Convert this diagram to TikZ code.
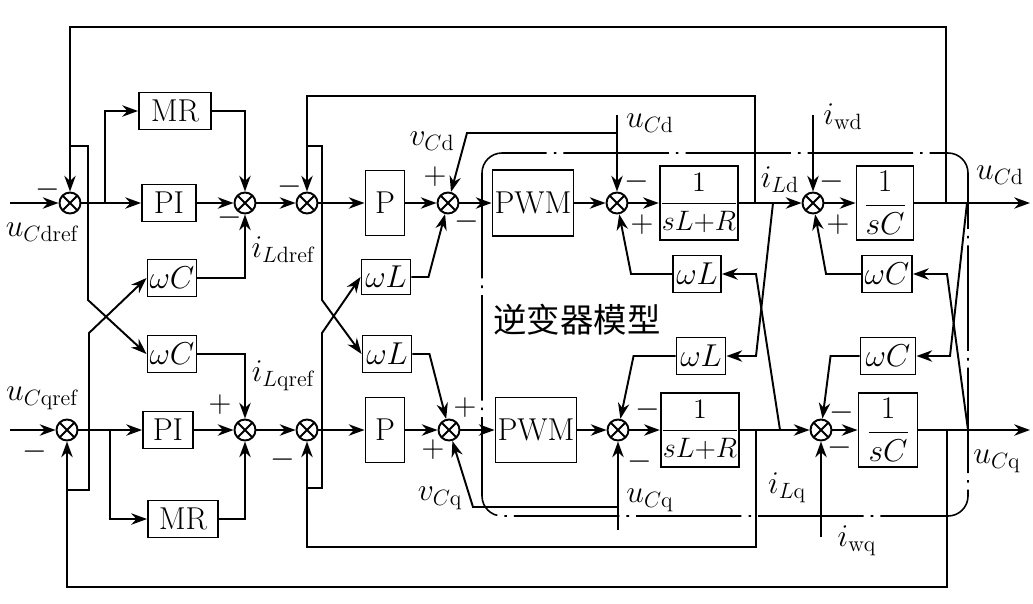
\documentclass[tikz,border=0pt]{standalone}
\usepackage{fix-cm}
\usepackage{fontspec}
\newfontfamily\cjk{Noto Sans CJK SC}
\usetikzlibrary{arrows.meta}

\begin{document}
\begin{tikzpicture}[x=0.02cm, y=-0.02cm, line width=1.1pt,
    font=\fontsize{18}{21}\selectfont,
    sumnode/.style={circle, draw, minimum size=0.42cm, inner sep=0pt,
      path picture={\draw (path picture bounding box.north west) -- (path picture bounding box.south east)
        (path picture bounding box.south west) -- (path picture bounding box.north east);}},
    blk/.style={draw, inner sep=0pt, minimum height=0.74cm},
    arr/.style={-{Stealth[length=9pt, width=6.5pt]}},
    frac/.style={blk, minimum height=1.48cm}]
  \useasboundingbox (0,0) rectangle (1033,603);

  \node[sumnode] (sd1) at (70,203) {};
  \node[sumnode] (sd2) at (245,203) {};
  \node[sumnode] (sd3) at (307,203) {};
  \node[sumnode] (sd4) at (448,203) {};
  \node[sumnode] (sd5) at (617,203) {};
  \node[sumnode] (sd6) at (813,203) {};
  \node[sumnode] (sq1) at (67,430) {};
  \node[sumnode] (sq2) at (245,430) {};
  \node[sumnode] (sq3) at (307,430) {};
  \node[sumnode] (sq4) at (449,430) {};
  \node[sumnode] (sq5) at (618,430) {};
  \node[sumnode] (sq6) at (821,430) {};

  \node[blk, minimum width=1.44cm] (mrd) at (175,111) {MR};
  \node[blk, minimum width=1.08cm] (pid) at (169,203) {PI};
  \node[blk, minimum width=0.98cm] (wcd) at (172,278) {$\omega C$};
  \node[blk, minimum width=0.98cm] (wcq) at (172,354) {$\omega C$};
  \node[blk, minimum width=1.0cm] (piq) at (168,430) {PI};
  \node[blk, minimum width=1.4cm] (mrq) at (183,519) {MR};
  \node[blk, minimum width=0.78cm, minimum height=1.3cm] (pd) at (385,203) {P};
  \node[blk, minimum width=0.78cm, minimum height=1.3cm] (pq) at (385,430) {P};
  \node[blk, minimum width=0.98cm, minimum height=0.7cm] (wld) at (386,277) {$\omega L$};
  \node[blk, minimum width=0.98cm] (wlq) at (387,354) {$\omega L$};
  \node[blk, minimum width=1.62cm, minimum height=1.32cm] (pwmd) at (533,203) {PWM};
  \node[blk, minimum width=1.62cm, minimum height=1.3cm] (pwmq) at (536,430) {PWM};
  \node[frac, minimum width=1.52cm, font=\fontsize{16}{19}\selectfont] (gld) at (699,203) {$\displaystyle\frac{1}{sL{+}R}$};
  \node[frac, minimum width=1.52cm, font=\fontsize{16}{19}\selectfont] (glq) at (700,430) {$\displaystyle\frac{1}{sL{+}R}$};
  \node[blk, minimum width=0.96cm] (wlrd) at (697,274) {$\omega L$};
  \node[blk, minimum width=0.98cm] (wlrq) at (701,356) {$\omega L$};
  \node[frac, minimum width=1.14cm] (gcd) at (885,203) {$\displaystyle\frac{1}{sC}$};
  \node[frac, minimum width=1.18cm] (gcq) at (888,430) {$\displaystyle\frac{1}{sC}$};
  \node[blk, minimum width=1.0cm] (wcrd) at (887,274) {$\omega C$};
  \node[blk, minimum width=1.1cm] (wcrq) at (888,356) {$\omega C$};

  \node (model) at (577,320) {\cjk\fontsize{19}{22}\selectfont 逆变器模型};

  \node (ucdref) at (42,232) {$u_{C\mathrm{dref}}$};
  \node (ucqref) at (42,398) {$u_{C\mathrm{qref}}$};
  \node (ildref) at (283,250) {$i_{L\mathrm{dref}}$};
  \node (ilqref) at (283,376) {$i_{L\mathrm{qref}}$};
  \node (vcdl) at (432,141) {$v_{C\mathrm{d}}$};
  \node (vcql) at (440,498) {$v_{C\mathrm{q}}$};
  \node (ucdl) at (650,123) {$u_{C\mathrm{d}}$};
  \node (ucql) at (650,500) {$u_{C\mathrm{q}}$};
  \node (ildl) at (780,180) {$i_{L\mathrm{d}}$};
  \node (ilql) at (787,488) {$i_{L\mathrm{q}}$};
  \node (iwdl) at (843,117) {$i_{\mathrm{wd}}$};
  \node (iwql) at (857,541) {$i_{\mathrm{wq}}$};
  \node (udl) at (1000,175) {$u_{C\mathrm{d}}$};
  \node (uql) at (997,461) {$u_{C\mathrm{q}}$};

  \node (s1) at (48,190) {$-$};
  \node (s2) at (35,452) {$-$};
  \node (s3) at (230,218) {$-$};
  \node (s4) at (220,405) {$+$};
  \node (s5) at (290,187) {$-$};
  \node (s6) at (283,460) {$-$};
  \node (s7) at (435,177) {$+$};
  \node (s8) at (467,222) {$-$};
  \node (s9) at (465,408) {$+$};
  \node (s10) at (433,450) {$+$};
  \node (s11) at (637,182) {$-$};
  \node (s12) at (642,225) {$+$};
  \node (s13) at (648,410) {$-$};
  \node (s14) at (640,462) {$-$};
  \node (s15) at (832,182) {$-$};
  \node (s16) at (838,225) {$+$};
  \node (s17) at (842,413) {$-$};
  \node (s18) at (840,448) {$-$};

  \coordinate (ind) at (10,203);
  \coordinate (inq) at (10,430);
  \coordinate (outd) at (1030,203);
  \coordinate (outq) at (1030,430);
  \coordinate (brd) at (105,203);
  \coordinate (brq) at (110,430);
  \coordinate (ucdtop) at (617,115);
  \coordinate (vcd) at (617,133);
  \coordinate (ucqbot) at (618,530);
  \coordinate (vcq) at (618,507);
  \coordinate (iwd) at (813,115);
  \coordinate (iwq) at (821,537);
  \coordinate (ild) at (755,203);
  \coordinate (ilq) at (756,430);
  \coordinate (ildx) at (773,203);
  \coordinate (ilqx) at (780,430);
  \coordinate (ud) at (946,203);
  \coordinate (uq) at (947,430);
  \coordinate (udx) at (967,203);
  \coordinate (uqx) at (968,430);
  \coordinate (fd1) at (70,146);
  \coordinate (fq1) at (67,490);
  \coordinate (fd3) at (307,146);
  \coordinate (fq3) at (307,488);

  \draw[line width=0.9pt, dash pattern=on 60pt off 4pt on 1.5pt off 4pt, rounded corners=0.4cm] (482,153) rectangle (968,516);

  \draw[arr] (ind) -- (sd1);
  \draw[arr] (sd1) -- (pid);
  \draw[arr] (brd) |- (mrd);
  \draw[arr] (mrd) -| (sd2);
  \draw[arr] (pid) -- (sd2);
  \draw[arr] (wcd) -| (sd2);
  \draw[arr] (sd2) -- (sd3);
  \draw[arr] (sd3) -- (pd);
  \draw[arr] (pd) -- (sd4);
  \draw[arr] (sd4) -- (pwmd);
  \draw[arr] (pwmd) -- (sd5);
  \draw[arr] (sd5) -- (gld);
  \draw[arr] (gld) -- (sd6);
  \draw[arr] (sd6) -- (gcd);
  \draw[arr] (gcd) -- (outd);

  \draw[arr] (inq) -- (sq1);
  \draw[arr] (sq1) -- (piq);
  \draw[arr] (brq) |- (mrq);
  \draw[arr] (mrq) -| (sq2);
  \draw[arr] (piq) -- (sq2);
  \draw[arr] (wcq) -| (sq2);
  \draw[arr] (sq2) -- (sq3);
  \draw[arr] (sq3) -- (pq);
  \draw[arr] (pq) -- (sq4);
  \draw[arr] (sq4) -- (pwmq);
  \draw[arr] (pwmq) -- (sq5);
  \draw[arr] (sq5) -- (glq);
  \draw[arr] (glq) -- (sq6);
  \draw[arr] (sq6) -- (gcq);
  \draw[arr] (gcq) -- (outq);

  \draw[arr] (ud) -- ++(0,-176) -| (sd1);
  \draw[arr] (uq) -- ++(0,157) -| (sq1);
  \draw[arr] (ild) -- ++(0,-107) -| (sd3);
  \draw[arr] (ilq) -- ++(0,117) -| (sq3);

  \draw[arr] (fd1) -| (88,300) -- (wcq.west);
  \draw[arr] (fq1) -| (89,333) -- (wcd.west);
  \draw[arr] (fd3) -| (322,300) -- (wlq.west);
  \draw[arr] (fq3) -| (322,333) -- (wld.west);
  \draw[arr] (ildx) -- (756,356) -- (wlrq.east);
  \draw[arr] (ilqx) -- (756,274) -- (wlrd.east);
  \draw[arr] (udx) -- (950,356) -- (wcrq.east);
  \draw[arr] (uqx) -- (947,274) -- (wcrd.east);

  \draw[arr] (wld.east) -- ++(17,0) -- (sd4);
  \draw[arr] (wlq.east) -- ++(17,0) -- (sq4);
  \draw[arr] (vcd) -- ++(-150,0) -- (sd4);
  \draw[arr] (vcq) -- ++(-145,0) -- (sq4);
  \draw[arr] (ucdtop) -- (sd5);
  \draw[arr] (ucqbot) -- (sq5);
  \draw[arr] (wlrd.west) -- ++(-41,0) -- (sd5);
  \draw[arr] (wlrq.west) -- ++(-42,0) -- (sq5);
  \draw[arr] (iwd) -- (sd6);
  \draw[arr] (iwq) -- (sq6);
  \draw[arr] (wcrd.west) -- ++(-35,0) -- (sd6);
  \draw[arr] (wcrq.west) -- ++(-29,0) -- (sq6);
\end{tikzpicture}
\end{document}
